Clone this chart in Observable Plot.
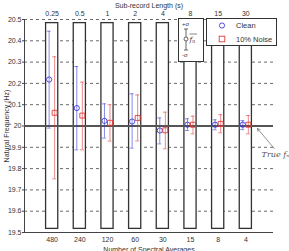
<!DOCTYPE html>
<html><head><meta charset="utf-8">
<script src="https://cdn.jsdelivr.net/npm/d3@7"></script>
<script src="https://cdn.jsdelivr.net/npm/@observablehq/plot@0.6"></script>
<style>body{margin:0;background:#fff}svg{overflow:hidden}</style>
</head><body><div id="chart"></div>
<script>
const positions = [1,2,3,4,5,6,7,8];
const averages = ["480","240","120","60","30","15","8","4"];
const subLengths = ["0.25","0.5","1","2","4","8","15","30"];
const cleanMean = [20.218,20.084,20.024,20.021,19.979,20.006,20.006,20.006];
const cleanHi   = [20.445,20.279,20.104,20.151,20.038,20.034,20.029,20.025];
const cleanLo   = [19.990,19.888,19.943,19.896,19.916,19.979,19.982,19.983];
const noiseMean = [20.062,20.049,20.015,20.038,19.980,20.006,20.010,20.006];
const noiseHi   = [20.325,20.206,20.100,20.146,20.065,20.046,20.053,20.049];
const noiseLo   = [19.752,19.888,19.929,19.930,19.893,19.963,19.968,19.963];
const yTicks = [19.5,19.6,19.7,19.8,19.9,20.0,20.1,20.2,20.3,20.4,20.5];
const trueFn = 20.0;

const font = "Liberation Sans, Arial, sans-serif";
const blue = "#3a3ad6", red = "#e03a3a";
const clean = positions.map((p,i)=>({x:p-0.11, m:cleanMean[i], lo:cleanLo[i], hi:cleanHi[i]}));
const noise = positions.map((p,i)=>({x:p+0.09, m:noiseMean[i], lo:noiseLo[i], hi:noiseHi[i]}));
const boxes = positions.map(p=>({x1:p-0.22, x2:p+0.22, y1:19.517, y2:20.483}));

function errMarks(data, color){
  return [
    Plot.ruleX(data,{x:"x", y1:"lo", y2:"hi", stroke:color, strokeOpacity:0.6, strokeWidth:1}),
    Plot.ruleY(data,{y:"hi", x1:d=>d.x-0.07, x2:d=>d.x+0.07, stroke:color, strokeOpacity:0.6}),
    Plot.ruleY(data,{y:"lo", x1:d=>d.x-0.07, x2:d=>d.x+0.07, stroke:color, strokeOpacity:0.6})
  ];
}

const plot = Plot.plot({
  width:289, height:251,
  marginLeft:24, marginRight:16, marginTop:19, marginBottom:19,
  style:{fontFamily:font, fontSize:"7px", color:"#333", background:"#fff"},
  x:{domain:[0,9], axis:null},
  y:{domain:[19.5,20.5], axis:null},
  marks:[
    Plot.ruleY(yTicks.filter(v=>v>19.5 && v!==20), {stroke:"#444", strokeWidth:0.8, strokeDasharray:"3,3"}),
    Plot.rect(boxes,{x1:"x1", x2:"x2", y1:"y1", y2:"y2", fill:"#fff", stroke:"#333", strokeWidth:1.3}),
    Plot.ruleX([0],{stroke:"#444"}),
    Plot.ruleY([19.5],{stroke:"#444"}),
    Plot.ruleY([trueFn],{stroke:"#555", strokeWidth:2}),
    ...errMarks(clean, blue),
    ...errMarks(noise, red),
    Plot.dot(clean,{x:"x", y:"m", symbol:"circle", r:2.6, stroke:blue, strokeWidth:0.9, fill:"none"}),
    Plot.dot(noise,{x:"x", y:"m", symbol:"square", r:2.8, stroke:red, strokeWidth:0.9, fill:"none"}),
    Plot.axisY({ticks:yTicks, tickFormat:d=>d===20?"20":d.toFixed(1), tickSize:2, tickPadding:1, label:"Natural Frequency (Hz)", labelAnchor:"center", labelArrow:"none", labelOffset:20, fontSize:7, fill:"#333", stroke:"#444"}),
    Plot.axisX({anchor:"bottom", ticks:positions, tickFormat:(d,i)=>averages[i], tickSize:0, tickPadding:5, fill:"#333", label:"Number of Spectral Averages", labelAnchor:"center", labelArrow:"none", labelOffset:19}),
    Plot.axisX({anchor:"top", ticks:positions, tickFormat:(d,i)=>subLengths[i], tickSize:0, tickPadding:4, fill:"#333", label:"Sub-record Length (s)", labelAnchor:"center", labelArrow:"none", labelOffset:16}),
    Plot.arrow([{x1:9.03, y1:19.894, x2:8.42, y2:19.988}],{x1:"x1",y1:"y1",x2:"x2",y2:"y2", stroke:"#666", strokeWidth:0.7, headLength:6, bend:0}),
    Plot.text([{x:8.57, y:19.866}],{x:"x", y:"y", text:()=>"True fₙ", textAnchor:"start", fontFamily:"DejaVu Serif, serif", fontStyle:"italic", fontSize:8, fill:"#555"})
  ]
});
document.getElementById("chart").appendChild(plot);

// in-plot legends
const svg = d3.select(plot);
const g1 = svg.append("g").attr("text-anchor","start");
g1.append("rect").attr("x",178.5).attr("y",18.5).attr("width",25).attr("height",43).attr("fill","#fff").attr("stroke","#333").attr("stroke-width",1);
g1.append("text").attr("x",182).attr("y",26).attr("font-size",6).attr("font-family",font).attr("fill","#333").text("+σ");
g1.append("text").attr("x",182).attr("y",57).attr("font-size",6).attr("font-family",font).attr("fill","#333").text("-σ");
g1.append("line").attr("x1",186).attr("x2",186).attr("y1",29).attr("y2",50).attr("stroke","#444").attr("stroke-width",0.8);
g1.append("line").attr("x1",184).attr("x2",188).attr("y1",29).attr("y2",29).attr("stroke","#444").attr("stroke-width",0.8);
g1.append("line").attr("x1",184).attr("x2",188).attr("y1",50).attr("y2",50).attr("stroke","#444").attr("stroke-width",0.8);
g1.append("circle").attr("cx",186).attr("cy",39).attr("r",2).attr("fill","#fff").attr("stroke","#444").attr("stroke-width",0.8);
const ft = g1.append("text").attr("x",189.5).attr("y",41.5).attr("font-size",7).attr("font-family","DejaVu Serif, serif").attr("font-style","italic").attr("fill","#333");
ft.append("tspan").text("f");
ft.append("tspan").attr("font-size",5).attr("dy",1.5).text("n");
g1.append("line").attr("x1",189.5).attr("x2",197).attr("y1",34).attr("y2",34).attr("stroke","#333").attr("stroke-width",0.6);

const g2 = svg.append("g").attr("text-anchor","start");
g2.append("rect").attr("x",206.5).attr("y",18.5).attr("width",70).attr("height",27).attr("fill","#fff").attr("stroke","#333").attr("stroke-width",1);
g2.append("circle").attr("cx",222).attr("cy",25.5).attr("r",2.6).attr("fill","none").attr("stroke",blue).attr("stroke-width",0.9);
g2.append("rect").attr("x",219.2).attr("y",36.2).attr("width",5.6).attr("height",5.6).attr("fill","none").attr("stroke",red).attr("stroke-width",0.9);
g2.append("text").attr("x",236).attr("y",28).attr("font-size",7.5).attr("font-family",font).attr("fill","#333").text("Clean");
g2.append("text").attr("x",236).attr("y",41.5).attr("font-size",7.5).attr("font-family",font).attr("fill","#333").text("10% Noise");
</script></body></html>
